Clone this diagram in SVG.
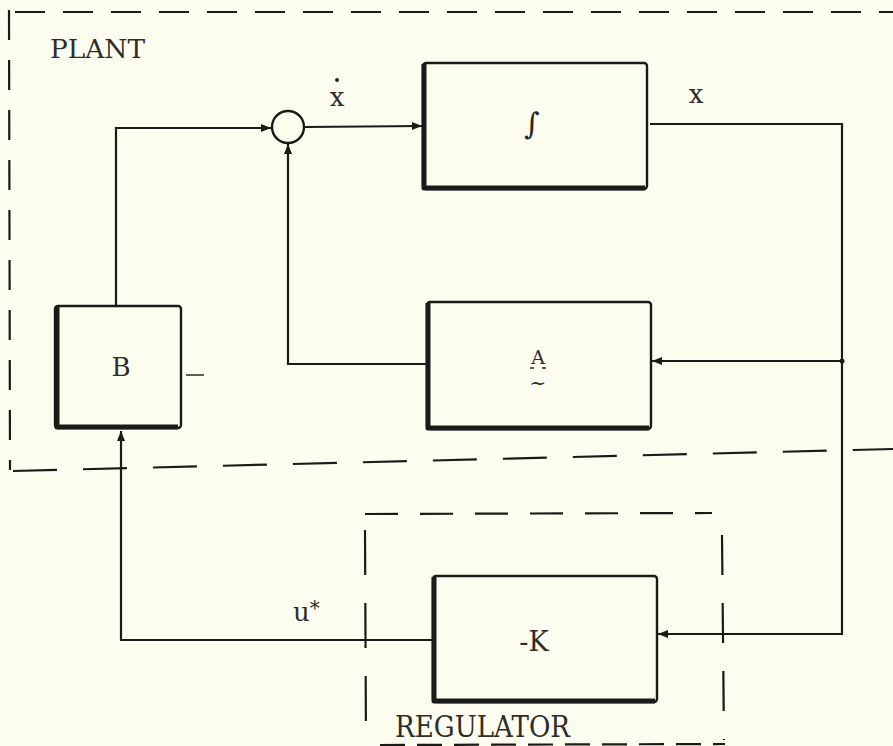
<svg xmlns="http://www.w3.org/2000/svg" width="893" height="746" viewBox="0 0 893 746">
<defs>
<marker id="arr" viewBox="0 0 10 10" refX="10" refY="5" markerWidth="10" markerHeight="10" markerUnits="userSpaceOnUse" orient="auto">
<path d="M0,1 L10,5 L0,9 z" fill="#1c1a18"/>
</marker>
<style>
.ln{fill:none;stroke:#1c1a18;stroke-width:2.2}
.box{fill:none;stroke:#1c1a18;stroke-width:2.4}
.sh{fill:none;stroke:#1c1a18;stroke-width:5;stroke-linejoin:round}
.dsh{fill:none;stroke:#1c1a18;stroke-width:2.2}
.t{font-family:"DejaVu Serif","Liberation Serif",serif;fill:#2e2c2a}
</style>
</defs>
<rect x="0" y="0" width="893" height="746" fill="#fdfdef"/>

<g id="plant-boundary">
<path class="dsh" d="M15,12 L893,12" stroke-dasharray="30 18"/>
<path class="dsh" d="M9,10 L10,470" stroke-dasharray="30 20"/>
<path class="dsh" d="M13,471 L893,449" stroke-dasharray="44 26"/>
<text class="t" x="50" y="58" font-size="26" textLength="95" lengthAdjust="spacingAndGlyphs">PLANT</text>
</g>

<g id="regulator-boundary">
<path class="dsh" d="M365,514 L712,513" stroke-dasharray="33 22"/>
<path class="dsh" d="M365,530 L366,746" stroke-dasharray="45 28"/>
<path class="dsh" d="M722,535 L724,740" stroke-dasharray="40 28"/>
<path class="dsh" d="M380,745 L725,744" stroke-dasharray="25 12" stroke-width="3"/>
<text class="t" x="395" y="737" font-size="29" textLength="175" lengthAdjust="spacingAndGlyphs">REGULATOR</text>
</g>

<g id="sum">
<circle cx="288" cy="127" r="16" fill="none" stroke="#1c1a18" stroke-width="2.4"/>
</g>

<g id="integrator">
<rect class="box" x="423" y="63" width="224" height="126" rx="3"/>
<path class="sh" d="M424,64 L424,188 L645,188"/>
<text x="532" y="134" font-size="30" text-anchor="middle" font-family="DejaVu Serif, serif" fill="#2a2826">∫</text>
</g>

<g id="A">
<rect class="box" x="427" y="302" width="224" height="127" rx="3"/>
<path class="sh" d="M428,303 L428,428 L649,428"/>
<text class="t" x="538" y="364" font-size="19" text-anchor="middle">A</text>
<path d="M530,368 h4 M542,368 h4" stroke="#2a2826" stroke-width="1.5"/>
<text class="t" x="538" y="390" font-size="20" text-anchor="middle">~</text>
</g>

<g id="B">
<rect class="box" x="55" y="306" width="126" height="122" rx="3"/>
<path class="sh" d="M57,307 L57,427 L178,427"/>
<text class="t" x="121" y="376" font-size="26" text-anchor="middle">B</text>
<path d="M186,375 L204,375" stroke="#2a2826" stroke-width="1.5"/>
</g>

<g id="K">
<rect class="box" x="433" y="576" width="224" height="126" rx="3"/>
<path class="sh" d="M434,577 L434,701 L655,701"/>
<text class="t" x="534" y="651" font-size="27" text-anchor="middle">-K</text>
</g>

<g id="connectors">
<path class="ln" d="M116,305 L116,128 L271,128" marker-end="url(#arr)"/>
<path class="ln" d="M305,127 L422,126" marker-end="url(#arr)"/>
<path class="ln" d="M650,124 L842,124 L842,634 L658,634" marker-end="url(#arr)"/>
<path class="ln" d="M842,361 L652,361" marker-end="url(#arr)"/>
<circle cx="842" cy="361" r="2.5" fill="#1c1a18"/>
<path class="ln" d="M426,364 L288,364 L288,144" marker-end="url(#arr)"/>
<path class="ln" d="M432,640 L121,640 L121,431" marker-end="url(#arr)"/>
</g>

<g id="labels">
<text class="t" x="337" y="106" font-size="26" text-anchor="middle">x</text>
<circle cx="337" cy="80" r="2" fill="#2a2826"/>
<text class="t" x="696" y="103" font-size="26" text-anchor="middle">x</text>
<text class="t" x="293" y="621" font-size="26">u<tspan font-size="20" dy="-6">*</tspan></text>
</g>
</svg>
